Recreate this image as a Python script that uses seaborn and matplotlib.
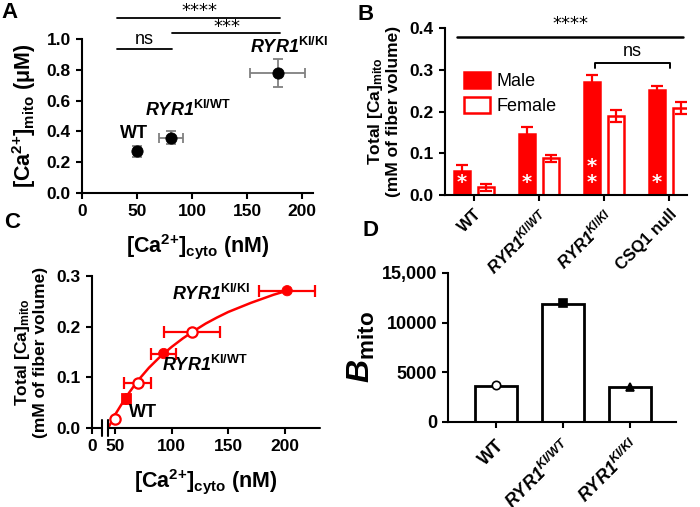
import numpy as np
import pandas as pd
import matplotlib
matplotlib.use('Agg')
import matplotlib.pyplot as plt
import seaborn as sns
from matplotlib.patches import Patch

# ---- data ----
# Panel A: mito vs cyto Ca2+
a_cyto = [50, 81, 178]
a_cyto_err = [3, 11, 25]
a_mito = [0.27, 0.36, 0.78]
a_mito_err = [0.035, 0.04, 0.09]

# Panel B: total mito Ca by genotype and sex
b_groups = ['WT', 'RYR1 KI/WT', 'RYR1 KI/KI', 'CSQ1 null']
b_labels = ['WT', r'$\mathbfit{RYR1}^{\mathit{KI/WT}}$', r'$\mathbfit{RYR1}^{\mathit{KI/KI}}$', 'CSQ1 null']
b_male = [0.058, 0.147, 0.271, 0.251]
b_male_err = [0.015, 0.015, 0.017, 0.010]
b_female = [0.018, 0.088, 0.189, 0.208]
b_female_err = [0.009, 0.008, 0.014, 0.014]
b_male_stars = ['*', '*', '*\n*', '*']

# Panel C: total mito Ca vs cyto Ca2+
c_male_cyto = [60, 93, 202]
c_male_cyto_err = [0, 11, 25]
c_male_ca = [0.058, 0.147, 0.271]
c_female_cyto = [50, 70, 118]
c_female_cyto_err = [0, 12, 25]
c_female_ca = [0.018, 0.089, 0.190]
c_fit_x = [44, 50, 60, 70, 80, 90, 100, 110, 120, 130, 140, 150, 160, 170, 180, 190, 202]
c_fit_y = [0, 0.026, 0.062, 0.093, 0.119, 0.141, 0.160, 0.177, 0.192, 0.206,
           0.218, 0.229, 0.238, 0.247, 0.255, 0.263, 0.271]

# Panel D: B_mito
d_groups = ['WT', 'RYR1 KI/WT', 'RYR1 KI/KI']
d_labels = ['WT', r'$\mathbfit{RYR1^{KI/WT}}$', r'$\mathbfit{RYR1^{KI/KI}}$']
d_bmito = [3650, 11900, 3550]
d_points = [3750, 12000, 3550]

# ---- style ----
sns.set_style('ticks')
plt.rcParams['font.family'] = ['Liberation Sans', 'DejaVu Sans']
plt.rcParams['font.weight'] = 'bold'
plt.rcParams['mathtext.fontset'] = 'custom'
plt.rcParams['mathtext.default'] = 'regular'
plt.rcParams['mathtext.rm'] = 'Liberation Sans'
plt.rcParams['mathtext.it'] = 'Liberation Sans:italic'
plt.rcParams['mathtext.bf'] = 'Liberation Sans:bold'
plt.rcParams['mathtext.bfit'] = 'Liberation Sans:bold:italic'
for k in ['text.color', 'axes.labelcolor', 'xtick.color', 'ytick.color', 'axes.edgecolor']:
    plt.rcParams[k] = 'black'
plt.rcParams['axes.linewidth'] = 1.5
plt.rcParams['xtick.major.width'] = 1.5
plt.rcParams['ytick.major.width'] = 1.5
plt.rcParams['xtick.major.size'] = 4.5
plt.rcParams['ytick.major.size'] = 4.5
plt.rcParams['xtick.labelsize'] = 12.5
plt.rcParams['ytick.labelsize'] = 12.5

RED = '#ff0000'
W, H = 700, 507
fig = plt.figure(figsize=(7, 5.07), dpi=100)


def box(l, r, t, b):
    return [l / W, 1 - b / H, (r - l) / W, (b - t) / H]


CA_CYTO = r'[Ca$^{2{+}}$]$_{cyto}$ (nM)'
TOTAL_CA = 'Total [Ca]$_{mito}$\n(mM of fiber volume)'
STAR_FONT = dict(family='DejaVu Sans', fontweight='normal', fontsize=13)

# ---------------- A ----------------
ax = fig.add_axes(box(82, 313, 39, 193))
ax.errorbar(a_cyto, a_mito, xerr=a_cyto_err, yerr=a_mito_err, fmt='none',
            ecolor='#808080', elinewidth=1.3, capsize=3.5, capthick=1.3, zorder=2)
sns.scatterplot(x=a_cyto, y=a_mito, color='black', s=65, edgecolor='black', zorder=3, ax=ax)
ax.set_xlim(0, 210)
ax.set_ylim(0, 1.0)
ax.set_xticks([0, 50, 100, 150, 200])
ax.set_yticks([0, 0.2, 0.4, 0.6, 0.8, 1.0])
ax.yaxis.set_major_formatter(matplotlib.ticker.FormatStrFormatter('%.1f'))
ax.set_xlabel(CA_CYTO, fontsize=15.5, fontweight='bold', labelpad=9)
ax.set_ylabel(r'[Ca$^{2{+}}$]$_{mito}$ ($\mu$M)', fontsize=15.5, fontweight='bold', labelpad=6)
sns.despine(ax=ax)
ax.plot([32, 180], [1.136, 1.136], color='black', lw=1.3, clip_on=False)
ax.plot([82, 180], [1.039, 1.039], color='black', lw=1.3, clip_on=False)
ax.plot([32, 82], [0.935, 0.935], color='black', lw=1.3, clip_on=False)
ax.text(107, 1.185, '****', ha='center', va='center', **STAR_FONT)
ax.text(132, 1.08, '***', ha='center', va='center', **STAR_FONT)
ax.text(57, 0.94, 'ns', ha='center', va='bottom', fontsize=13, fontweight='normal')
ax.text(47, 0.385, 'WT', ha='center', va='center', fontsize=13, fontweight='bold')
ax.text(96, 0.54, r'$\mathbfit{RYR1}^{KI/WT}$', ha='center', va='center', fontsize=13, fontweight='bold')
ax.text(188, 0.95, r'$\mathbfit{RYR1}^{KI/KI}$', ha='center', va='center', fontsize=13,
        fontweight='bold', clip_on=False)

# ---------------- B ----------------
ax = fig.add_axes(box(445, 687, 28, 195))
df_b = pd.DataFrame({
    'group': b_groups * 2,
    'value': b_male + b_female,
    'sex': ['Male'] * 4 + ['Female'] * 4,
})
sns.barplot(data=df_b, x='group', y='value', hue='sex', hue_order=['Male', 'Female'],
            palette={'Male': RED, 'Female': 'white'}, saturation=1, edgecolor=RED, linewidth=1.8,
            width=0.74, gap=0.33, errorbar=None, legend=False, ax=ax)
bars = ax.patches
male_x = [p.get_x() + p.get_width() / 2 for p in bars[:4]]
female_x = [p.get_x() + p.get_width() / 2 for p in bars[4:8]]
ax.errorbar(male_x, b_male, yerr=b_male_err, fmt='none', ecolor=RED, elinewidth=1.6,
            capsize=4.5, capthick=1.6)
ax.errorbar(female_x, b_female, yerr=b_female_err, fmt='none', ecolor=RED, elinewidth=1.6,
            capsize=4.5, capthick=1.6)
for x, s in zip(male_x, b_male_stars):
    ax.text(x, 0.008, s, color='white', ha='center', va='bottom', family='DejaVu Sans',
            fontsize=14, fontweight='bold', linespacing=0.75)
ax.set_xlim(-0.446, 3.277)
ax.set_ylim(0, 0.4)
ax.set_yticks([0, 0.1, 0.2, 0.3, 0.4])
ax.yaxis.set_major_formatter(matplotlib.ticker.FormatStrFormatter('%.1f'))
ax.set_xticks(range(4))
ax.set_xticklabels(b_labels, rotation=45, ha='right', rotation_mode='anchor', fontsize=12,
                   fontweight='bold')
ax.tick_params(axis='x', pad=4)
ax.set_xlabel('')
ax.set_ylabel(TOTAL_CA, fontsize=12.5, fontweight='bold', linespacing=1.1, labelpad=6)
sns.despine(ax=ax)
ax.plot([-0.26, 3.215], [0.378, 0.378], color='black', lw=1.8, clip_on=False)
ax.text(1.49, 0.41, '****', ha='center', va='center', **STAR_FONT)
ax.plot([1.86, 1.86, 3.02, 3.02], [0.304, 0.316, 0.316, 0.304], color='black', lw=1.4)
ax.text(2.44, 0.324, 'ns', ha='center', va='bottom', fontsize=13, fontweight='normal')
handles = [Patch(facecolor=RED, edgecolor=RED, lw=1.8), Patch(facecolor='white', edgecolor=RED, lw=1.8)]
ax.legend(handles, ['Male', 'Female'], loc='upper left', bbox_to_anchor=(0.05, 0.78),
          frameon=False, prop={'size': 13, 'weight': 'normal'}, handlelength=1.4,
          handleheight=1.0, handletextpad=0.4, labelspacing=0.35, borderaxespad=0)

# ---------------- C ----------------
ax = fig.add_axes(box(92, 320, 276, 428))
ax.patch.set_visible(False)
ax.plot(c_fit_x, c_fit_y, color=RED, lw=1.8, zorder=2)
ax.errorbar(c_male_cyto, c_male_ca, xerr=c_male_cyto_err, fmt='none', ecolor=RED,
            elinewidth=1.6, capsize=4, capthick=1.6, zorder=2)
ax.errorbar(c_female_cyto, c_female_ca, xerr=c_female_cyto_err, fmt='none', ecolor=RED,
            elinewidth=1.6, capsize=4, capthick=1.6, zorder=2)
sns.scatterplot(x=c_male_cyto, y=c_male_ca, color=RED, edgecolor=RED, s=55,
                style=['s', 'o', 'o'], markers={'s': 's', 'o': 'o'}, legend=False, zorder=3, ax=ax)
sns.scatterplot(x=c_female_cyto, y=c_female_ca, color='white', edgecolor=RED, linewidth=1.6,
                s=55, legend=False, zorder=3, ax=ax)
ax.set_xlim(29.7, 231)
ax.set_ylim(0, 0.3)
ax.set_xticks([29.7, 50, 100, 150, 200])
ax.set_xticklabels(['0', '50', '100', '150', '200'])
ax.set_yticks([0, 0.1, 0.2, 0.3])
ax.yaxis.set_major_formatter(matplotlib.ticker.FormatStrFormatter('%.1f'))
ax.set_xlabel(CA_CYTO, fontsize=15.5, fontweight='bold', labelpad=9)
ax.set_ylabel(TOTAL_CA, fontsize=12.5, fontweight='bold', linespacing=1.1, labelpad=6)
sns.despine(ax=ax)
ax.spines['bottom'].set_visible(False)
xt = ax.get_xaxis_transform()
ax.plot([29.7, 38.5], [0, 0], color='black', lw=1.5, transform=xt, clip_on=False)
ax.plot([43.8, 231], [0, 0], color='black', lw=1.5, transform=xt, clip_on=False)
for bx in [38.5, 43.8]:
    ax.plot([bx, bx], [-0.05, 0.05], color='black', lw=1.5, transform=xt, clip_on=False)
ax.text(75, 0.03, 'WT', ha='center', va='center', fontsize=13, fontweight='bold')
ax.text(129, 0.124, r'$\mathbfit{RYR1}^{KI/WT}$', ha='center', va='center', fontsize=13, fontweight='bold')
ax.text(135, 0.264, r'$\mathbfit{RYR1}^{KI/KI}$', ha='center', va='center', fontsize=13, fontweight='bold')

# ---------------- D ----------------
ax = fig.add_axes(box(448, 676, 273, 422))
ax.patch.set_visible(False)
sns.barplot(x=d_groups, y=d_bmito, color='white', saturation=1, edgecolor='black', linewidth=2,
            width=0.64, errorbar=None, ax=ax)
for i, (m, fc) in enumerate([('o', 'white'), ('s', 'black'), ('^', 'black')]):
    ax.plot(i, d_points[i], marker=m, markersize=6, markerfacecolor=fc,
            markeredgecolor='black', markeredgewidth=1.2, zorder=3)
ax.set_xlim(-0.716, 2.687)
ax.set_ylim(0, 15000)
ax.set_yticks([0, 5000, 10000, 15000])
ax.set_yticklabels(['0', '5000', '10000', '15,000'])
ax.set_xticks(range(3))
ax.set_xticklabels(d_labels, rotation=45, ha='right', rotation_mode='anchor', fontsize=13,
                   fontweight='bold')
ax.tick_params(axis='x', pad=6)
ax.tick_params(axis='y', labelsize=13)
ax.set_xlabel('')
ax.set_ylabel(r'$\mathbfit{B}_{mito}$', fontsize=23, fontweight='bold', labelpad=3)
sns.despine(ax=ax)

# panel letters
for x, y, s in [(10, 13, 'A'), (366, 15, 'B'), (12, 222, 'C'), (370, 230, 'D')]:
    fig.text(x / W, 1 - y / H, s, fontsize=16, fontweight='bold', ha='center', va='center')

fig.savefig('out.png', dpi=100)
